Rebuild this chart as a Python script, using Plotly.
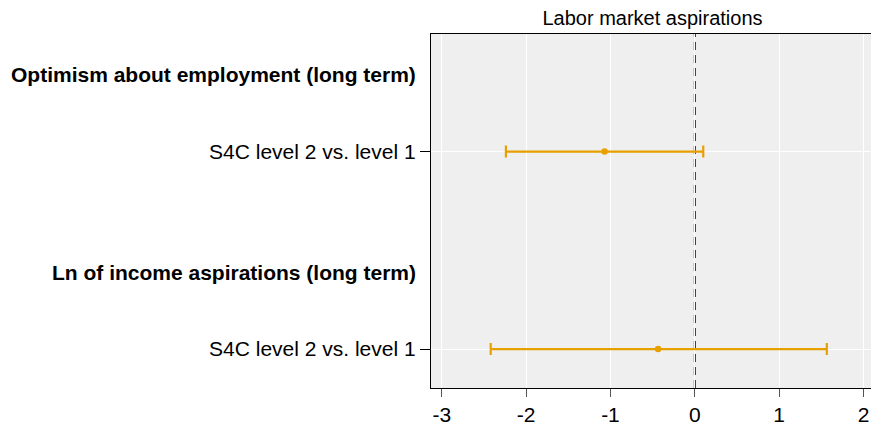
import plotly.graph_objects as go

title = "Labor market aspirations"
headers = ["Optimism about employment (long term)", "Ln of income aspirations (long term)"]
row_labels = ["S4C level 2 vs. level 1", "S4C level 2 vs. level 1"]
estimates = [-1.07, -0.435]
ci_low = [-2.24, -2.42]
ci_high = [0.10, 1.565]
x_ticks = [-3, -2, -1, 0, 1, 2]

# layout positions (reversed y axis)
header_pos = [1.0, 3.571]
row_pos = [2.0, 4.571]

orange = "#E8A000"
font_family = "Liberation Sans, Arial, sans-serif"

fig = go.Figure()
fig.add_shape(type="line", xref="x", yref="paper", x0=0, x1=0, y0=0, y1=1,
              line=dict(color="#1a1a1a", width=2, dash="8px,5px"), layer="below")
fig.add_trace(go.Scatter(
    x=estimates, y=row_pos, mode="markers",
    marker=dict(color=orange, size=6.5, symbol="circle"),
    error_x=dict(type="data", symmetric=False,
                 array=[h - e for h, e in zip(ci_high, estimates)],
                 arrayminus=[e - l for e, l in zip(estimates, ci_low)],
                 color=orange, thickness=2.2, width=6),
    showlegend=False, hoverinfo="skip"))

for h, p in zip(headers, header_pos):
    fig.add_annotation(text="<b>" + h + "</b>", xref="paper", yref="y", x=0, y=p,
                       xanchor="right", yanchor="middle", xshift=-13, showarrow=False,
                       font=dict(size=21, color="black", family=font_family))

fig.update_layout(
    width=871, height=427,
    margin=dict(l=431, r=0, t=34, b=39),
    paper_bgcolor="white", plot_bgcolor="#efefef",
    font=dict(family=font_family, size=21, color="black"),
    title=dict(text=title, x=652.5 / 871, xanchor="center", y=1 - 18 / 427, yanchor="middle",
               font=dict(size=20, color="black")),
    xaxis=dict(range=[-3.128, 2.089], tickvals=x_ticks, ticktext=[str(v) for v in x_ticks],
               showgrid=True, gridcolor="white", gridwidth=1, zeroline=False,
               showline=True, linecolor="black", linewidth=1.3, mirror=True,
               ticks="outside", ticklen=8, tickcolor="#555555", tickwidth=1.3,
               tickfont=dict(size=21)),
    yaxis=dict(range=[5.078, 0.47], tickvals=row_pos, ticktext=row_labels,
               showgrid=True, gridcolor="white", gridwidth=1, zeroline=False,
               showline=True, linecolor="black", linewidth=1.3, mirror=False,
               ticks="outside", ticklen=10, tickcolor="black", tickwidth=1,
               tickfont=dict(size=21)),
)

fig.write_html("out.html", config={"displayModeBar": False},
               post_script="document.body.style.margin='0';document.body.style.overflow='hidden';")
